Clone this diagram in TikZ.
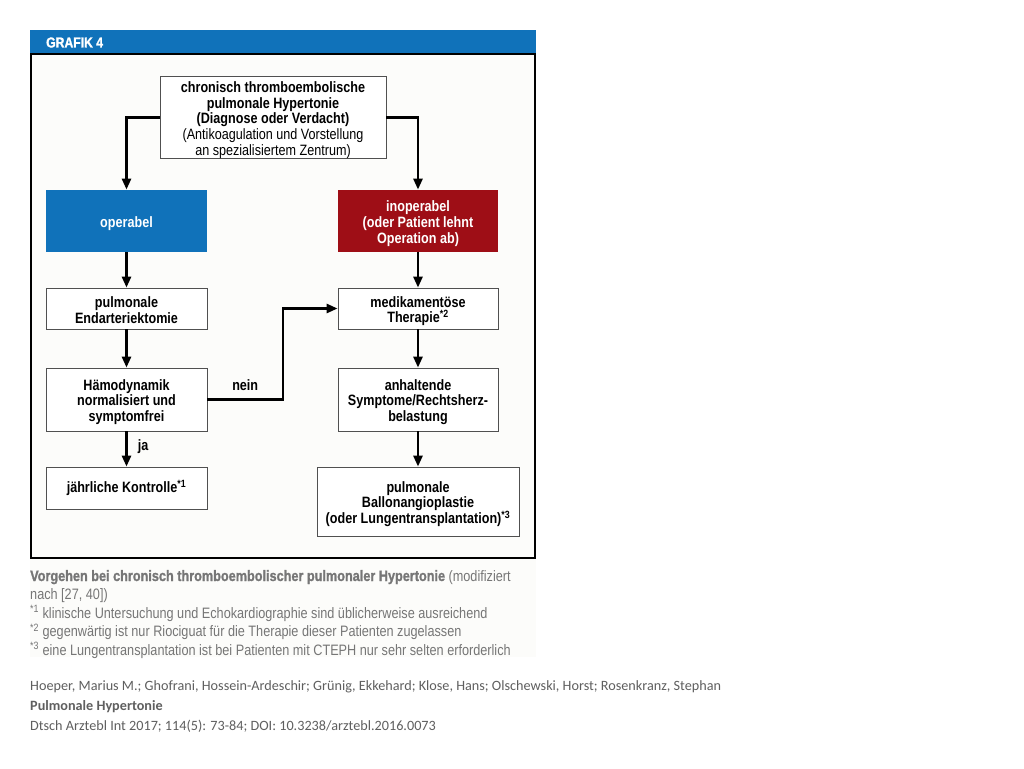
\documentclass[tikz,border=0pt]{standalone}
\usepackage{fontspec}
\setmainfont{Liberation Sans}
\newfontfamily\cond[FakeStretch=0.84]{Liberation Sans}
\newfontfamily\condheavy[FakeStretch=0.84,FakeBold=1.2]{Liberation Sans Bold}
\newfontfamily\calib{Carlito}
\usetikzlibrary{arrows.meta}
\definecolor{hdrblue}{RGB}{16,114,186}
\definecolor{opred}{RGB}{158,14,22}
\definecolor{capgray}{RGB}{118,118,118}
\definecolor{citgray}{RGB}{95,95,95}
\definecolor{panelbg}{RGB}{252,252,250}
\definecolor{boxline}{RGB}{80,80,80}
\newcommand\lowtop{\rule{0pt}{16pt}}
\begin{document}
\begin{tikzpicture}[x=1pt,y=-1pt,
  box/.style={draw=boxline,line width=0.8pt,fill=white,align=center,inner sep=0pt,
    font=\cond\bfseries\fontsize{15}{15.8}\selectfont},
  colbox/.style={box,draw=none,text=white},
  flow/.style={line width=2.6pt,-{Triangle[length=11pt,width=9pt]}},
  lbl/.style={font=\cond\bfseries\fontsize{15}{15.8}\selectfont,inner sep=0pt},
  captxt/.style={anchor=base west,inner sep=0pt,text=capgray,font=\cond\fontsize{15.1}{18}\selectfont},
  cittxt/.style={anchor=base west,inner sep=0pt,text=citgray,font=\calib\fontsize{14.2}{16}\selectfont}]
\useasboundingbox (0,0) rectangle (1024,768);
\fill[white] (0,0) rectangle (1024,768);
\fill[panelbg] (30,30) rectangle (536,657);
\fill[hdrblue] (30,30) rectangle (536,54);
\node[anchor=base west,inner sep=0pt,text=white,font=\condheavy\fontsize{14.5}{15}\selectfont] (hdr) at (46,47.5) {GRAFIK 4};
\draw[black,line width=1.6pt] (31,54) rectangle (535,558);

\node[box,minimum width=226pt,minimum height=81pt] (top) at (273,117.5)
  {\lowtop chronisch thromboembolische\\pulmonale Hypertonie\\(Diagnose oder Verdacht)\\{\mdseries(Antikoagulation und Vorstellung}\\{\mdseries an spezialisiertem Zentrum)}};
\node[colbox,fill=hdrblue,minimum width=161pt,minimum height=62pt] (op) at (126.5,221) {\rule{0pt}{17pt}operabel};
\node[colbox,fill=opred,minimum width=160pt,minimum height=62pt] (inop) at (418,221) {\lowtop inoperabel\\(oder Patient lehnt\\Operation ab)};
\node[box,minimum width=161pt,minimum height=41pt] (pea) at (126.5,308.5) {\rule{0pt}{13.5pt}pulmonale\\Endarteriektomie};
\node[box,minimum width=160pt,minimum height=41pt] (med) at (418,308.5) {\lowtop medikament\"ose\\Therapie\textsuperscript{*2}};
\node[box,minimum width=161pt,minimum height=63pt] (haemo) at (126.5,399.5) {\lowtop H\"amodynamik\\normalisiert und\\symptomfrei};
\node[box,minimum width=160pt,minimum height=63pt] (anh) at (418,399.5) {\lowtop anhaltende\\Symptome/Rechtsherz-\\belastung};
\node[box,minimum width=161pt,minimum height=42pt] (jk) at (126.5,488) {j\"ahrliche Kontrolle\textsuperscript{*1}};
\node[box,minimum width=202pt,minimum height=69pt] (bal) at (418,501.5) {\lowtop pulmonale\\Ballonangioplastie\\(oder Lungentransplantation)\textsuperscript{*3}};

\draw[flow] (top.west) -| (op.north);
\draw[flow] (top.east) -| (inop.north);
\draw[flow] (op) -- (pea);
\draw[flow] (pea) -- (haemo);
\draw[flow] (haemo) -- (jk) node[lbl,pos=0.42,right=10pt] (ja) {ja};
\draw[flow] (inop) -- (med);
\draw[flow] (med) -- (anh);
\draw[flow] (anh) -- (bal);
\coordinate (bend) at (283,399.5);
\draw[flow] (haemo.east) -- (bend) node[lbl,midway,above=8pt] (nein) {nein} |- (med.west);

\node[captxt] (cap1) at (30,581) {{\condheavy\fontsize{15.1}{18}\selectfont Vorgehen bei chronisch thromboembolischer pulmonaler Hypertonie} (modifiziert};
\node[captxt] (cap2) at (30,599.5) {nach [27, 40])};
\node[captxt] (fn1) at (30,618) {\textsuperscript{*1} klinische Untersuchung und Echokardiographie sind \"ublicherweise ausreichend};
\node[captxt] (fn2) at (30,636.5) {\textsuperscript{*2} gegenw\"artig ist nur Riociguat f\"ur die Therapie dieser Patienten zugelassen};
\node[captxt] (fn3) at (30,655) {\textsuperscript{*3} eine Lungentransplantation ist bei Patienten mit CTEPH nur sehr selten erforderlich};

\node[cittxt] (cit1) at (30,690.5) {Hoeper, Marius M.; Ghofrani, Hossein-Ardeschir; Gr\"unig, Ekkehard; Klose, Hans; Olschewski, Horst; Rosenkranz, Stephan};
\node[cittxt,font=\calib\bfseries\fontsize{14.2}{16}\selectfont] (cit2) at (30,710.5) {Pulmonale Hypertonie};
\node[cittxt] (cit3) at (30,730.5) {Dtsch Arztebl Int 2017; 114(5): 73-84; DOI: 10.3238/arztebl.2016.0073};
\end{tikzpicture}
\end{document}
